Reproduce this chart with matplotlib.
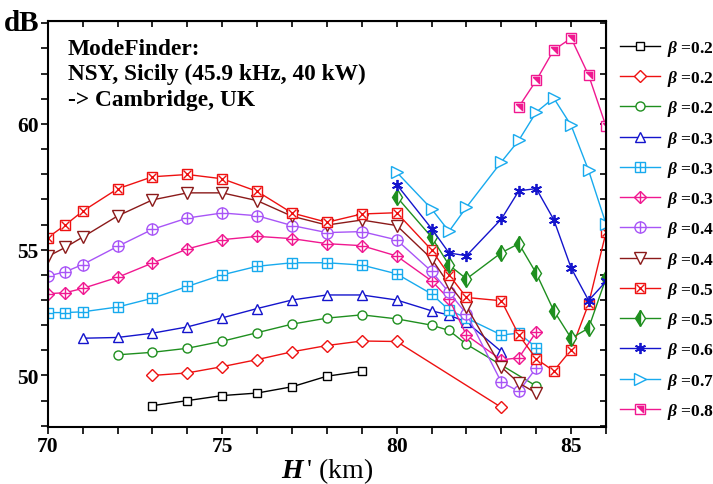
import matplotlib
matplotlib.use("Agg")
import matplotlib.pyplot as plt
from matplotlib.legend_handler import HandlerTuple

plt.rcParams['font.family'] = ['Liberation Serif', 'DejaVu Serif']
plt.rcParams['font.weight'] = 'bold'
plt.rcParams['mathtext.fontset'] = 'custom'
plt.rcParams['mathtext.it'] = 'Liberation Serif:bold:italic'
plt.rcParams['mathtext.rm'] = 'Liberation Serif:bold'
plt.rcParams['mathtext.bf'] = 'Liberation Serif:bold'

# H' (km) sample points
h_a = [73, 74, 75, 76, 77, 78, 79]
h_b = [73, 74, 75, 76, 77, 78, 79, 80, 83]
h_c = [72, 73, 74, 75, 76, 77, 78, 79, 80, 81, 81.5, 82, 84]
h_d = [71, 72, 73, 74, 75, 76, 77, 78, 79, 80, 81, 81.5, 82, 83]
h_e = [70, 70.5, 71, 72, 73, 74, 75, 76, 77, 78, 79, 80, 81, 81.5, 82, 83, 83.5, 84]
h_f = h_e + [84.5, 85, 85.5, 86]
h_g = [80, 81, 81.5, 82, 83, 83.5, 84, 84.5, 85, 85.5, 86]
h_h = [83.5, 84, 84.5, 85, 85.5, 86]

# amplitude (dB) per beta curve
db_1 = [48.8, 49.0, 49.2, 49.3, 49.55, 49.97, 50.17]
db_2 = [50.0, 50.1, 50.35, 50.63, 50.94, 51.19, 51.37, 51.35, 48.73]
db_3 = [50.82, 50.92, 51.08, 51.36, 51.7, 52.04, 52.28, 52.41, 52.25, 52.0, 51.79, 51.24, 49.58]
db_4 = [51.48, 51.51, 51.68, 51.93, 52.29, 52.66, 53.0, 53.2, 53.2, 53.0, 52.57, 52.4, 52.12, 50.95]
db_5 = [52.5, 52.5, 52.53, 52.72, 53.07, 53.54, 54.0, 54.34, 54.48, 54.48, 54.39, 54.04,
        53.24, 52.6, 52.28, 51.61, 51.68, 51.11]
db_6 = [53.25, 53.29, 53.46, 53.9, 54.47, 55.03, 55.4, 55.53, 55.44, 55.24, 55.16, 54.75,
        53.76, 53.04, 51.6, 50.62, 50.7, 51.73]
db_7 = [53.95, 54.12, 54.41, 55.13, 55.81, 56.26, 56.46, 56.35, 55.96, 55.68, 55.72, 55.39,
        54.14, 53.3, 52.45, 49.73, 49.37, 50.3]
db_8 = [54.73, 55.09, 55.5, 56.34, 56.98, 57.26, 57.26, 56.95, 56.33, 55.98, 56.18, 55.96,
        54.64, 53.62, 52.74, 50.33, 49.7, 49.3]
db_9 = [55.48, 55.98, 56.53, 57.42, 57.9, 57.99, 57.82, 57.32, 56.46, 56.09, 56.42, 56.47,
        54.99, 54.0, 53.1, 52.97, 51.61, 50.66, 50.18, 51.02, 52.85, 55.7]
db_10 = [57.1, 55.5, 54.39, 53.84, 54.88, 55.24, 54.06, 52.58, 51.48, 51.88, 53.87]
db_11 = [57.59, 55.84, 54.87, 54.76, 56.22, 57.34, 57.43, 56.2, 54.27, 52.98, 53.74]
db_12 = [58.08, 56.62, 55.73, 56.69, 58.49, 59.35, 60.47, 61.03, 59.94, 58.15, 56.02]
db_13 = [60.68, 61.73, 62.94, 63.41, 61.94, 59.9]

labels = ['0.2', '0.2', '0.2', '0.3', '0.3', '0.3', '0.4', '0.4', '0.5', '0.5', '0.6', '0.7', '0.8']

red = '#ee1111'
green = '#1f8f1f'
blue = '#1414cc'
cyan = '#18aaee'
pink = '#f01890'
purple = '#a855f7'
brown = '#8b1a1a'

half_sq = [(-1, 1), (1, 1), (1, -1), (-1, 1)]

# (x, y, color, list of marker styles drawn on top of each other)
series = [
    (h_a, db_1, 'black', [dict(marker='s', ms=6, mfc='white')]),
    (h_b, db_2, red, [dict(marker='D', ms=6, mfc='white')]),
    (h_c, db_3, green, [dict(marker='o', ms=6.5, mfc='white')]),
    (h_d, db_4, blue, [dict(marker='^', ms=7, mfc='white')]),
    (h_e, db_5, cyan, [dict(marker='s', ms=6.5, mfc='white'), dict(marker='+', ms=6.5)]),
    (h_e, db_6, pink, [dict(marker='D', ms=6.5, mfc='white'), dict(marker='+', ms=8)]),
    (h_e, db_7, purple, [dict(marker='o', ms=8, mfc='white'), dict(marker='+', ms=8)]),
    (h_e, db_8, brown, [dict(marker='v', ms=8, mfc='white')]),
    (h_f, db_9, red, [dict(marker='s', ms=7.5, mfc='white'), dict(marker='x', ms=6)]),
    (h_g, db_10, green, [dict(marker='d', ms=8, fillstyle='left', mfcalt='white')]),
    (h_g, db_11, blue, [dict(marker=(6, 2, 0), ms=8, mew=1.3)]),
    (h_g, db_12, cyan, [dict(marker='>', ms=8, mfc='white')]),
    (h_h, db_13, pink, [dict(marker='s', ms=6.5, mfc='white'), dict(marker=half_sq, ms=4.5)]),
]

fig = plt.figure(figsize=(7.13, 4.85), dpi=100)
ax = fig.add_axes([0.067, 0.1175, 0.783, 0.8375])

handles = []
for x, y, c, styles in series:
    parts = []
    for i, st in enumerate(styles):
        ls = '-' if i == 0 else 'none'
        ln, = ax.plot(x, y, color=c, lw=1.0, ls=ls, mec=c, **st)
        if 'mfc' not in st and 'mfcalt' not in st:
            ln.set_markerfacecolor(c)
        parts.append(ln)
    handles.append(tuple(parts))

ax.set_xlim(70, 86)
ax.set_ylim(47.95, 64.1)
ax.set_xticks([70, 75, 80, 85])
ax.set_xticks(range(70, 87), minor=True)
ax.set_yticks([50, 55, 60])
ax.set_yticks(range(48, 65), minor=True)
ax.tick_params(which='both', direction='out', length=5, width=1.2, labelsize=15.5, pad=1.5)
for s in ax.spines.values():
    s.set_linewidth(1.5)

top = ax.secondary_xaxis('top')
top.set_xticks(range(70, 87))
top.tick_params(direction='in', length=4, width=1.2, labeltop=False)
right = ax.secondary_yaxis('right')
right.set_yticks(range(48, 65))
right.tick_params(direction='in', length=4, width=1.2, labelright=False)

ax.set_xlabel(r"$H\,$' (km)", fontsize=20)
ax.xaxis.label.set_va('baseline')
ax.xaxis.set_label_coords(0.5, -0.124)
fig.text(0.006, 0.952, 'dB', fontsize=21, fontweight='bold', va='center')

ax.text(0.036, 0.958, 'ModeFinder:\nNSY, Sicily (45.9 kHz, 40 kW)\n-> Cambridge, UK',
        transform=ax.transAxes, va='top', ha='left', fontsize=16.8, fontweight='bold',
        linespacing=1.27)

ax.legend(handles, [r'$\beta$ =' + b for b in labels],
          handler_map={tuple: HandlerTuple(ndivide=1, pad=0)},
          loc='upper left', bbox_to_anchor=(1.012, 0.975), frameon=False,
          fontsize=12.5, handlelength=2.3, handletextpad=0.45, labelspacing=0.59,
          borderaxespad=0)

fig.savefig('out.png', dpi=100)
